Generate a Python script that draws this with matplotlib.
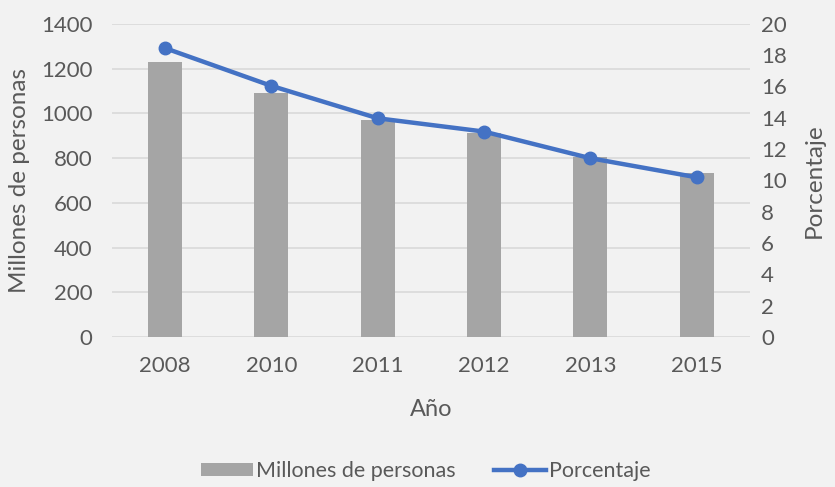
import matplotlib
matplotlib.use("Agg")
import matplotlib.pyplot as plt

years = ["2008", "2010", "2011", "2012", "2013", "2015"]
millones = [1231, 1090, 970, 911, 804, 732]
porcentaje = [18.45, 16.04, 13.97, 13.12, 11.42, 10.2]

BG = "#f2f2f2"
TXT = "#595959"
plt.rcParams["font.family"] = ["Lato", "DejaVu Sans"]

fig = plt.figure(figsize=(8.35, 4.87), dpi=100, facecolor=BG)
ax = fig.add_axes([0.134, 0.308, 0.764, 0.643], facecolor=BG)
ax2 = ax.twinx()

x = range(len(years))
bars = ax.bar(x, millones, width=0.32, color="#a5a5a5", label="Millones de personas", zorder=2)
ax.set_ylim(0, 1400)
ax.set_yticks(range(0, 1401, 200))
ax.set_xlim(-0.5, len(years) - 0.5)
ax.set_xticks(list(x))
ax.set_xticklabels(years)
ax.grid(axis="y", color="#d9d9d9", linewidth=1.2, zorder=0)
ax.set_axisbelow(True)

line, = ax2.plot(x, porcentaje, color="#4472c4", linewidth=3.2, marker="o",
                 markersize=9, label="Porcentaje", zorder=3)
ax2.set_ylim(0, 20)
ax2.set_yticks(range(0, 21, 2))

for a in (ax, ax2):
    for s in a.spines.values():
        s.set_visible(False)
    a.tick_params(length=0, labelsize=16, colors=TXT)
ax.tick_params(axis="y", pad=14)
ax.tick_params(axis="x", pad=14)
ax2.tick_params(axis="y", pad=8)

ax.set_xlabel("Año", fontsize=17, color=TXT, labelpad=16)
ax.set_ylabel("Millones de personas", fontsize=17.5, color=TXT, labelpad=8)
ax2.set_ylabel("Porcentaje", fontsize=17.5, color=TXT, labelpad=12)

fig.legend(handles=[bars, line], loc="center", bbox_to_anchor=(0.51, 0.033),
           ncol=2, frameon=False, fontsize=15.5, labelcolor=TXT,
           handlelength=2.4, handleheight=0.6, columnspacing=1.8, handletextpad=0.15)

fig.savefig("out.png", dpi=100, facecolor=BG)
